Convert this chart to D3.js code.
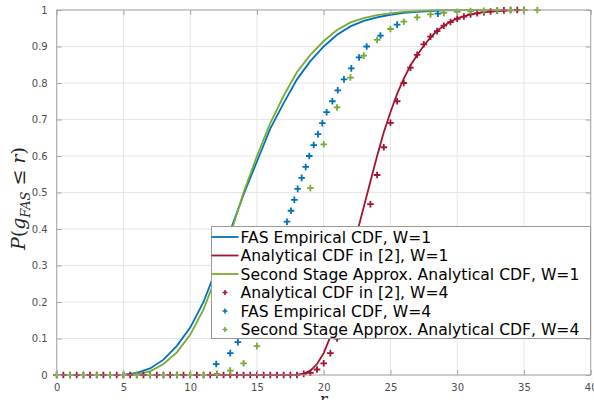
<!DOCTYPE html>
<html>
<head>
<meta charset="utf-8">
<script src="https://cdn.jsdelivr.net/npm/d3@7"></script>
<style>
  body { margin: 0; background: #fff; }
  svg { display: block; font-family: "DejaVu Sans", sans-serif; }
</style>
</head>
<body>
<div id="chart"></div>
<script>
// W=1 curves
const fasW1X = [0, 4, 5, 6, 7, 8, 9, 10, 11, 12, 13, 14, 15, 16, 17, 18, 19, 20, 21, 22, 23, 24, 25, 26, 27, 28, 29, 30, 35];
const fasW1Y = [0, 0, 0.001, 0.006, 0.018, 0.042, 0.08, 0.13, 0.2, 0.295, 0.395, 0.495, 0.585, 0.675, 0.745, 0.81, 0.86, 0.9, 0.932, 0.955, 0.97, 0.98, 0.987, 0.992, 0.995, 0.997, 0.999, 1, 1];
const secW1X = [0, 5, 6, 7, 8, 9, 10, 11, 12, 13, 14, 15, 16, 17, 18, 19, 20, 21, 22, 23, 24, 25, 26, 27, 28, 29, 35];
const secW1Y = [0, 0, 0.002, 0.01, 0.03, 0.062, 0.11, 0.18, 0.275, 0.385, 0.5, 0.6, 0.69, 0.765, 0.83, 0.877, 0.915, 0.945, 0.966, 0.978, 0.986, 0.991, 0.995, 0.997, 0.999, 1, 1];
const anaW1X = [0, 17, 18, 18.5, 19, 19.5, 20, 20.5, 21, 21.5, 22, 22.5, 23, 23.5, 24, 24.5, 25, 25.5, 26, 26.5, 27, 27.5, 28, 28.5, 29, 29.5, 30, 31, 32, 33, 34, 35];
const anaW1Y = [0, 0, 0.001, 0.004, 0.012, 0.03, 0.06, 0.105, 0.165, 0.235, 0.315, 0.39, 0.46, 0.53, 0.6, 0.665, 0.72, 0.77, 0.812, 0.848, 0.877, 0.902, 0.925, 0.943, 0.957, 0.968, 0.977, 0.988, 0.994, 0.997, 0.999, 1];

// W=4 markers
const anaW4X = d3.range(0, 35.01, 0.5);
const anaW4Y = [
  0, 0, 0, 0, 0, 0, 0, 0, 0, 0,            // 0 .. 4.5
  0, 0, 0, 0, 0, 0, 0, 0, 0, 0,            // 5 .. 9.5
  0, 0, 0, 0, 0, 0, 0, 0, 0, 0,            // 10 .. 14.5
  0, 0, 0, 0, 0, 0, 0, 0.003, 0.006, 0.015, // 15 .. 19.5
  0.032, 0.06, 0.1, 0.15, 0.22, 0.3, 0.385, 0.468, 0.548, 0.624, // 20 .. 24.5
  0.691, 0.75, 0.8, 0.842, 0.877, 0.906, 0.927, 0.942, 0.957, 0.967, // 25 .. 29.5
  0.976, 0.982, 0.988, 0.991, 0.994, 0.996, 0.998, 0.999, 1, 1,     // 30 .. 34.5
  1                                                                  // 35
];
const fasW4X = [11.95, 13.0, 13.57, 14.05, 14.5, 14.9, 15.3, 15.65, 16.0, 16.3, 16.6, 16.85, 17.05, 17.25, 17.55, 17.8, 18.05, 18.35, 18.65, 18.92, 19.25, 19.57, 19.9, 20.22, 20.65, 21.05, 21.52, 22.07, 22.65, 23.22, 24.25, 25.5, 28.55];
const fasW4Y = [0.03, 0.06, 0.09, 0.12, 0.15, 0.18, 0.21, 0.24, 0.27, 0.3, 0.33, 0.36, 0.39, 0.42, 0.45, 0.48, 0.51, 0.54, 0.57, 0.6, 0.63, 0.66, 0.69, 0.72, 0.75, 0.78, 0.81, 0.84, 0.87, 0.9, 0.93, 0.96, 0.99];
const secW4X = d3.range(0, 36.01, 1);
const secW4Y = [0, 0, 0, 0, 0, 0, 0, 0, 0, 0, 0, 0, 0.003, 0.012, 0.032, 0.079, 0.16, 0.26, 0.38, 0.512, 0.632, 0.733, 0.815, 0.875, 0.918, 0.948, 0.968, 0.98, 0.988, 0.992, 0.995, 0.997, 0.998, 0.999, 1, 1, 1];

const xTicks = [0, 5, 10, 15, 20, 25, 30, 35, 40];
const yTicks = [0, 0.1, 0.2, 0.3, 0.4, 0.5, 0.6, 0.7, 0.8, 0.9, 1];

const blue = "#0072BD", red = "#A2142F", green = "#77AC30";

const width = 594, height = 400;
const svg = d3.select("#chart").append("svg")
    .attr("width", width)
    .attr("height", height);

const x = d3.scaleLinear().domain([0, 40]).range([56.7, 590.7]);
const y = d3.scaleLinear().domain([0, 1]).range([375, 10]);

// grid
const grid = svg.append("g");
grid.selectAll(".gx").data(xTicks).enter().append("line")
    .attr("x1", d => x(d)).attr("x2", d => x(d))
    .attr("y1", y(0)).attr("y2", y(1))
    .style("stroke", "#e6e6e6").style("stroke-width", 1);
grid.selectAll(".gy").data(yTicks).enter().append("line")
    .attr("x1", x(0)).attr("x2", x(40))
    .attr("y1", d => y(d)).attr("y2", d => y(d))
    .style("stroke", "#e6e6e6").style("stroke-width", 1);

const plot = svg.append("g");

const line = d3.line().x(d => x(d[0])).y(d => y(d[1]));
const curves = [
    { xs: fasW1X, ys: fasW1Y, color: blue },
    { xs: anaW1X, ys: anaW1Y, color: red },
    { xs: secW1X, ys: secW1Y, color: green }
];
curves.forEach(c => {
    plot.append("path")
        .datum(d3.zip(c.xs, c.ys))
        .attr("d", line)
        .style("fill", "none")
        .style("stroke", c.color)
        .style("stroke-width", 1.8);
});

function plusPath(s) {
    return `M${-s},0H${s}M0,${-s}V${s}`;
}
const markers = [
    { xs: anaW4X, ys: anaW4Y, color: red },
    { xs: fasW4X, ys: fasW4Y, color: blue },
    { xs: secW4X, ys: secW4Y, color: green }
];
markers.forEach(m => {
    plot.append("g").selectAll("path")
        .data(d3.zip(m.xs, m.ys))
        .enter().append("path")
        .attr("transform", d => `translate(${x(d[0])},${y(d[1])})`)
        .attr("d", plusPath(3.3))
        .style("fill", "none")
        .style("stroke", m.color)
        .style("stroke-width", 1.8);
});

// axes box and ticks
const axisColor = "#a6a6a6";
svg.append("rect")
    .attr("x", x(0)).attr("y", y(1))
    .attr("width", x(40) - x(0)).attr("height", y(0) - y(1))
    .style("fill", "none").style("stroke", axisColor).style("stroke-width", 1);

const xAxis = svg.append("g")
    .attr("transform", `translate(0,${y(0)})`)
    .call(d3.axisBottom(x).tickValues(xTicks).tickSizeInner(-5).tickSizeOuter(0).tickPadding(9).tickFormat(d3.format("d")));
const xAxisTop = svg.append("g")
    .attr("transform", `translate(0,${y(1)})`)
    .call(d3.axisTop(x).tickValues(xTicks).tickSizeInner(-5).tickSizeOuter(0).tickFormat(""));
const yAxis = svg.append("g")
    .attr("transform", `translate(${x(0)},0)`)
    .call(d3.axisLeft(y).tickValues(yTicks).tickSizeInner(-5).tickSizeOuter(0).tickPadding(9).tickFormat(d => d === 0 || d === 1 ? d3.format("d")(d) : d3.format(".1f")(d)));
const yAxisRight = svg.append("g")
    .attr("transform", `translate(${x(40)},0)`)
    .call(d3.axisRight(y).tickValues(yTicks).tickSizeInner(-5).tickSizeOuter(0).tickFormat(""));

[xAxis, xAxisTop, yAxis, yAxisRight].forEach(a => {
    a.select(".domain").remove();
    a.selectAll(".tick line").style("stroke", axisColor);
    a.selectAll(".tick text")
        .style("fill", "#4d4d4d")
        .style("font-family", "'DejaVu Sans', sans-serif")
        .style("font-size", "10px");
});

// axis labels
svg.append("text")
    .attr("x", (x(0) + x(40)) / 2)
    .attr("y", 405)
    .attr("text-anchor", "middle")
    .style("font-family", "'DejaVu Serif', serif")
    .style("font-style", "italic")
    .style("font-size", "16px")
    .style("fill", "#262626")
    .text("r");

const yl = svg.append("text")
    .attr("transform", `translate(25,${(y(0) + y(1)) / 2 + 6}) rotate(-90)`)
    .attr("text-anchor", "middle")
    .style("font-family", "'DejaVu Serif', serif")
    .style("font-size", "19px")
    .style("fill", "#262626");
yl.append("tspan").style("font-style", "italic").text("P");
yl.append("tspan").text("(");
yl.append("tspan").style("font-style", "italic").text("g");
yl.append("tspan").style("font-style", "italic").style("font-size", "13px").attr("dy", 5).text("FAS");
yl.append("tspan").attr("dy", -5).text(" \u2264 ");
yl.append("tspan").style("font-style", "italic").text("r");
yl.append("tspan").text(")");

// legend
const legendItems = [
    { label: "FAS Empirical CDF, W=1", color: blue, type: "line" },
    { label: "Analytical CDF in [2], W=1", color: red, type: "line" },
    { label: "Second Stage Approx. Analytical CDF, W=1", color: green, type: "line" },
    { label: "Analytical CDF in [2], W=4", color: red, type: "mark" },
    { label: "FAS Empirical CDF, W=4", color: blue, type: "mark" },
    { label: "Second Stage Approx. Analytical CDF, W=4", color: green, type: "mark" }
];
const lg = svg.append("g").attr("transform", "translate(211.5,226.5)");
lg.append("rect")
    .attr("width", 379).attr("height", 112)
    .style("fill", "#fff").style("stroke", "#999").style("stroke-width", 1);
const rows = lg.selectAll(".row").data(legendItems).enter().append("g")
    .attr("transform", (d, i) => `translate(0,${10.5 + i * 18.5})`);
rows.filter(d => d.type === "line").append("line")
    .attr("x1", 0).attr("x2", 27)
    .style("stroke", d => d.color).style("stroke-width", 1.8);
rows.filter(d => d.type === "mark").append("path")
    .attr("transform", "translate(13.5,0)")
    .attr("d", plusPath(2.5))
    .style("fill", "none").style("stroke", d => d.color).style("stroke-width", 1.6);
rows.append("text")
    .attr("x", 29)
    .attr("dy", "0.36em")
    .style("font-size", "15.6px")
    .style("fill", "#000")
    .text(d => d.label);
</script>
</body>
</html>
